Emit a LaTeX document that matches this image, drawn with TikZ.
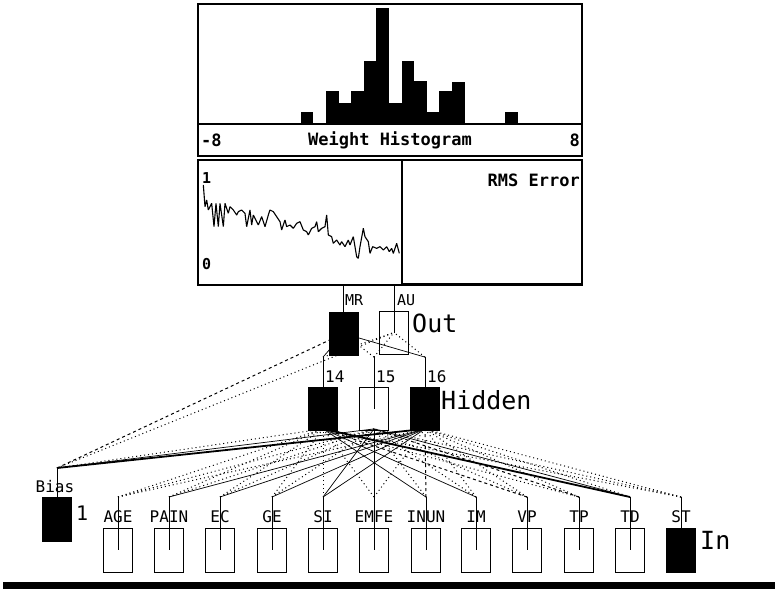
\documentclass[tikz,border=0pt]{standalone}
\usepackage{fontspec}
\setmonofont{DejaVu Sans Mono}
\usetikzlibrary{calc}
\pgfdeclarelayer{background}
\pgfsetlayers{background,main}

\tikzset{
  unit/.style={draw, line width=0.8pt, minimum width=29pt, minimum height=43pt, inner sep=0pt},
  blackunit/.style={unit, fill=black},
  whiteunit/.style={unit},
  tag/.style={font=\ttfamily\fontsize{15}{15}\selectfont, inner sep=0pt},
  paneltext/.style={font=\ttfamily\bfseries\fontsize{17}{17}\selectfont, inner sep=0pt},
  layer/.style={font=\ttfamily\fontsize{25}{25}\selectfont, inner sep=0pt, anchor=west},
  frame/.style={line width=1.5pt},
  stub/.style={line width=0.8pt},
  wbig/.style={line width=1.8pt},
  wpos/.style={line width=0.7pt},
  wneg/.style={line width=1pt, dash pattern=on 3pt off 3pt},
  wsmall/.style={line width=1pt, dash pattern=on 1pt off 3pt},
}

\begin{document}
\begin{tikzpicture}[x=1pt,y=-1pt]
  \useasboundingbox (0,0) rectangle (775,589);

  % weight histogram panel
  \draw[frame] (198,4) rectangle (582,156);
  \draw[line width=2pt] (198,124) -- (582,124);
  \foreach \left/\top in {300.8/112,326/91,338.6/103,351.2/91,363.8/61,376.4/8,
                          389/103,401.6/61,414.2/81,426.8/112,439.4/91,452/82,505/112}
    \fill (\left,123) rectangle ++(12.6,\top-123);
  \node[paneltext,anchor=west] (hmin) at (201,140) {-8};
  \node[paneltext] (htitle) at (390,140) {Weight Histogram};
  \node[paneltext,anchor=east] (hmax) at (580,140) {8};

  % rms error panel
  \draw[frame] (198,160) rectangle (582,285);
  \draw[line width=2.6pt] (198,160) -- (198,285);
  \draw[frame] (402,160) -- (402,285);
  \draw[line width=2.4pt] (402,284) -- (582,284);
  \node[paneltext,anchor=east] (rmstitle) at (580,180) {RMS Error};
  \node[paneltext,anchor=west,font=\ttfamily\bfseries\fontsize{15}{15}\selectfont] (rmsone) at (202,178) {1};
  \node[paneltext,anchor=west,font=\ttfamily\bfseries\fontsize{15}{15}\selectfont] (rmszero) at (202,264) {0};
  \begin{scope}[shift={(190,160)},x=0.3333pt,y=-0.3333pt]
    \draw[line width=1.1pt,line join=bevel] plot coordinates {(40,75) (45,140) (50,120) (55,150) (65,130) (72,200)
      (78,130) (85,200) (90,130) (100,200) (105,130) (115,160) (120,140) (130,150) (140,165)
      (145,155) (155,150) (165,160) (170,200) (180,150) (185,195) (190,165) (200,185) (205,195)
      (215,170) (225,200) (235,165) (240,150) (250,155) (260,170) (270,185) (275,210) (285,180)
      (290,200) (300,195) (310,205) (320,190) (330,185) (340,210) (350,215) (355,225) (365,205)
      (375,200) (380,185) (385,215) (395,205) (405,200) (410,165) (415,225) (425,230) (430,250)
      (440,240) (450,255) (455,245) (465,260) (475,240) (480,255) (490,230) (500,290) (505,295)
      (510,260) (520,205) (525,230) (535,245) (540,280) (548,260) (560,265) (570,260) (580,270)
      (590,260) (598,275) (605,265) (610,280) (620,250) (628,280)};
  \end{scope}

  % output layer
  \node[blackunit] (MR) at (343.5,333.5) {};
  \node[whiteunit] (AU) at (394,332.5) {};
  \node[tag,anchor=west] (lMR) at (345,300) {MR};
  \node[tag,anchor=west] (lAU) at (397,300) {AU};
  \node[layer] (lout) at (412,323) {Out};

  % hidden layer
  \node[blackunit] (h14) at (323,409) {};
  \node[whiteunit] (h15) at (374,409) {};
  \node[blackunit] (h16) at (425,409) {};
  \foreach \h in {14,15,16} {
    \coordinate (t\h) at ($(h\h.north)+(0,-30)$);
    \node[tag,anchor=west,font=\ttfamily\fontsize{16}{16}\selectfont] (l\h) at ($(t\h)+(2,20)$) {\h};
  }
  \node[layer] (lhidden) at (441,400) {Hidden};

  % input layer
  \node[blackunit,minimum height=44pt] (Bias) at (57,519) {};
  \coordinate (tBias) at (57,468);
  \node[tag,font=\ttfamily\fontsize{16}{16}\selectfont] (lBias) at (55,487) {Bias};
  \node[layer,font=\ttfamily\fontsize{20}{20}\selectfont] (lone) at (76,513) {1};
  \foreach \name/\x/\kind in {AGE/118/whiteunit,PAIN/169/whiteunit,EC/220/whiteunit,
      GE/272/whiteunit,SI/323/whiteunit,EMFE/374/whiteunit,INUN/426/whiteunit,
      IM/476/whiteunit,VP/527/whiteunit,TP/579/whiteunit,TD/630/whiteunit,ST/681/blackunit} {
    \node[\kind,minimum height=44pt] (\name) at (\x,550) {};
    \coordinate (t\name) at (\x,497);
    \node[tag,font=\ttfamily\fontsize{16}{16}\selectfont] (l\name) at (\x,517) {\name};
  }
  \node[layer] (lin) at (700,540) {In};

  % bottom bar
  \fill (3,582) rectangle (775,589);

  \begin{pgfonlayer}{background}
    % stubs
    \draw[stub] (MR.center) -- (MR.center |- 0,285);
    \draw[stub] (AU.center) -- (AU.center |- 0,285);
    \foreach \h in {14,15,16}
      \draw[stub] (t\h) -- (h\h.center);
    \foreach \name in {Bias,AGE,PAIN,EC,GE,SI,EMFE,INUN,IM,VP,TP,TD,ST}
      \draw[stub] (t\name) -- (\name.center);
    % hidden to output
    \draw[wpos] (t14) -- (MR.center);
    \draw[wsmall] (t15) -- (MR.center);
    \draw[wpos] (t16) -- (MR.center);
    \draw[wsmall] (t14) -- (AU.center);
    \draw[wsmall] (t15) -- (AU.center);
    \draw[wsmall] (t16) -- (AU.center);
    \draw[wneg] (tBias) -- (MR.center);
    \draw[wsmall] (tBias) -- (AU.center);
    % input to hidden
    \foreach \src/\a/\b/\c in {Bias/wsmall/wpos/wbig,AGE/wsmall/wsmall/wsmall,
        PAIN/wsmall/wsmall/wpos,EC/wsmall/wsmall/wpos,GE/wsmall/wsmall/wpos,
        SI/wsmall/wpos/wpos,EMFE/wsmall/wpos/wsmall,INUN/wpos/wsmall/wneg,
        IM/wpos/wsmall/wsmall,VP/wneg/wsmall/wsmall,TP/wsmall/wneg/wsmall,
        TD/wbig/wpos/wsmall,ST/wsmall/wsmall/wsmall} {
      \draw[\a] (t\src) -- ([yshift=2pt]h14.south);
      \draw[\b] (t\src) -- ([yshift=2pt]h15.south);
      \draw[\c] (t\src) -- ([yshift=2pt]h16.south);
    }
  \end{pgfonlayer}
\end{tikzpicture}
\end{document}
